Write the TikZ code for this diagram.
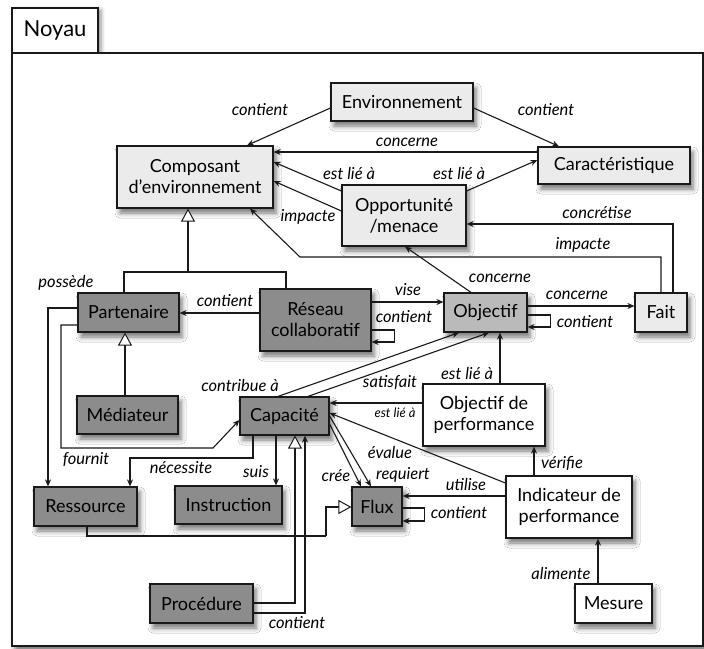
\documentclass[tikz,border=0pt]{standalone}
\usepackage{fontspec}
\setmainfont{Lato}
\usetikzlibrary{arrows.meta,shadows.blur,calc}
\definecolor{lg}{RGB}{235,235,235}
\definecolor{dg}{RGB}{140,140,140}
\definecolor{mg}{RGB}{186,186,186}
\begin{document}
\begin{tikzpicture}[x=1pt,y=-1pt,
  shd/.style={blur shadow={shadow xshift=3pt,shadow yshift=-5pt,shadow blur radius=5pt,shadow opacity=55}},
  box/.style={draw=black!90,line width=1.2pt,shd,inner sep=0pt,align=center,font=\fontsize{18}{21}\selectfont},
  light/.style={box,fill=lg},
  dark/.style={box,fill=dg},
  mid/.style={box,fill=mg},
  white/.style={box,fill=white},
  lab/.style={font=\fontsize{16.5}{19}\selectfont\itshape,inner sep=0pt},
  slab/.style={font=\fontsize{13}{15}\selectfont\itshape,inner sep=0pt},
  con/.style={draw=black!90,line width=1.1pt},
  arr/.style={con,-{Stealth[length=7pt,width=6pt]}},
  gen/.style={con,-{Triangle[fill=white,length=13pt,width=14pt,line width=1pt]}}
]
\useasboundingbox (0,0) rectangle (704,648);
% frame
\node[draw=black!90,line width=1.2pt,fill=white,blur shadow={shadow xshift=3pt,shadow yshift=-2pt,shadow blur radius=4pt,shadow opacity=45},minimum width=86,minimum height=45,inner sep=0pt,font=\fontsize{22}{26}\selectfont] (tab) at (55,30.5) {Noyau};
\node[draw=black!90,line width=1.2pt,fill=white,shd,minimum width=691,minimum height=593,inner sep=0pt] (frame) at (357.5,349.5) {};

% nodes
\node[light,minimum width=142,minimum height=38] (env) at (402,102) {Environnement};
\node[light,minimum width=156,minimum height=62] (comp) at (195,177) {Composant\\d’environnement};
\node[light,minimum width=152,minimum height=37] (car) at (614,165.5) {Caractéristique};
\node[light,minimum width=124,minimum height=61] (opp) at (404,215.5) {Opportunité\\/menace};
\node[dark,minimum width=101,minimum height=39] (part) at (128.5,312.5) {Partenaire};
\node[dark,minimum width=111,minimum height=62] (res) at (315.5,320) {Réseau\\collaboratif};
\node[mid,minimum width=83,minimum height=39] (obj) at (485.5,312.5) {Objectif};
\node[light,minimum width=52,minimum height=39] (fait) at (661,312.5) {Fait};
\node[dark,minimum width=101,minimum height=38] (med) at (127.5,415) {Médiateur};
\node[dark,minimum width=89,minimum height=38] (cap) at (284.5,416) {Capacité};
\node[white,minimum width=122,minimum height=62] (objp) at (484,415) {Objectif de\\performance};
\node[dark,minimum width=103,minimum height=39] (ress) at (85.5,506.5) {Ressource};
\node[dark,minimum width=107,minimum height=38] (instr) at (228.5,505) {Instruction};
\node[dark,minimum width=50,minimum height=39] (flux) at (377,506.5) {Flux};
\node[white,minimum width=126,minimum height=62] (ind) at (569,507) {Indicateur de\\performance};
\node[dark,minimum width=103,minimum height=39] (proc) at (201.5,603.5) {Procédure};
\node[white,minimum width=77,minimum height=39] (mes) at (613.5,603.5) {Mesure};

% connectors
\draw[arr] (env.west |- 0,108) -- (comp.north -| 247,0);
\draw[arr] (env.east |- 0,108) -- (car.north -| 559,0);
\draw[arr] (car.west |- 0,152) -- (comp.east |- 0,152);
\draw[arr] (opp.west |- 0,191) -- (comp.east |- 0,162);
\draw[arr] (opp.west |- 0,211) -- (comp.east |- 0,181);
\draw[arr] (opp.east |- 0,191) -- (car.west |- 0,160);
\draw[arr] (fait.north -| 673,0) |- (opp.east |- 0,224);
\coordinate (b1) at (300,257);
\draw[arr] (fait.north -| 661,0) |- (b1) -- (comp.south -| 250,0);
\draw[arr] (obj.north -| 471,0) -- (opp.south -| 405,0);
\draw[arr] (obj.east |- 0,306) -- (fait.west |- 0,306);
\draw[arr] (obj.east |- 0,315) -- ++(23,0) -- ++(0,12) -- (obj.east |- 0,327);
\draw[arr] (res.east |- 0,302) -- (obj.west |- 0,302);
\draw[arr] (res.east |- 0,330) -- ++(23,0) -- ++(0,12) -- (res.east |- 0,342);
\draw[arr] (res.west |- 0,313) -- (part.east |- 0,313);
\coordinate (g1) at (188,272);
\draw[con] (part.north -| 124,0) |- (g1) -| (res.north -| 286,0);
\draw[gen] (g1) -- (comp.south -| g1);
\draw[gen] (med.north -| 125,0) -- (part.south -| 125,0);
\draw[arr] (part.west |- 0,308) -| (ress.north -| 48,0);
\coordinate (b2) at (61,448);
\coordinate (b3) at (213,448);
\draw[arr] (part.west |- 0,325) -| (b2) -- (b3) -- (cap.west |- 0,420);
\coordinate (b4) at (253,458);
\draw[arr] (cap.south -| b4) -- (b4) -| (ress.north -| 130,0);
\draw[arr] (cap.south -| 276,0) -- (instr.north -| 276,0);
\coordinate (g2) at (326,536);
\draw[con] (ress.south -| 87,0) |- (g2);
\draw[con] (instr.south -| 234,0) -- (instr.south -| 234,0 |- g2);
\draw[gen] (g2) |- (flux.west |- 0,507);
\draw[gen] (proc.east |- 0,603) -| (cap.south -| 295,0);
\draw[arr] (proc.east |- 0,613) -| (cap.south -| 305,0);
\draw[arr] (cap.north -| 278,0) -- (obj.south -| 459,0);
\draw[arr] (cap.north -| 308,0) -- (obj.south -| 489,0);
\draw[arr] (objp.north -| 500,0) -- (obj.south -| 500,0);
\draw[arr] (objp.west |- 0,403) -- (cap.east |- 0,403);
\draw[arr] (ind.west |- 0,483) -- (cap.east |- 0,413);
\draw[arr] (cap.east |- 0,424) -- (flux.north -| 361,0);
\draw[arr] (cap.east |- 0,416) -- (flux.north -| 371,0);
\draw[arr] (ind.west |- 0,496) -- (flux.east |- 0,496);
\draw[arr] (flux.east |- 0,508) -- ++(22,0) -- ++(0,13) -- (flux.east |- 0,521);
\draw[arr] (ind.north -| 534,0) -- (objp.south -| 534,0);
\draw[arr] (mes.north -| 598,0) -- (ind.south -| 598,0);

% labels
\node[lab] (l1) at (260,110) {contient};
\node[lab] (l2) at (546,110) {contient};
\node[lab] (l3) at (407,142) {concerne};
\node[lab] (l4) at (349,173) {est lié à};
\node[lab] (l5) at (308,217) {impacte};
\node[lab] (l6) at (459,173) {est lié à};
\node[lab] (l7) at (597,213) {concrétise};
\node[lab] (l8) at (583,245) {impacte};
\node[lab] (l9) at (500,278) {concerne};
\node[lab] (l10) at (577,295) {concerne};
\node[lab] (l11) at (585,322) {contient};
\node[lab] (l12) at (408,290) {vise};
\node[lab] (l13) at (404,317) {contient};
\node[lab] (l14) at (225,301) {contient};
\node[lab] (l15) at (66,283) {possède};
\node[lab] (l16) at (86,460) {fournit};
\node[lab] (l17) at (181,468) {nécessite};
\node[lab] (l18) at (256,472) {suis};
\node[lab] (l19) at (297,623) {contient};
\node[lab] (l20) at (240,385) {contribue à};
\node[lab] (l21) at (390,383) {satisfait};
\node[lab] (l22) at (467,373) {est lié à};
\node[slab] (l23) at (395,413) {est lié à};
\node[lab] (l24) at (390,452) {évalue};
\node[lab] (l25) at (336,476) {crée};
\node[lab] (l26) at (403,475) {requiert};
\node[lab] (l27) at (466,484) {utilise};
\node[lab] (l28) at (459,513) {contient};
\node[lab] (l29) at (562,463) {vérifie};
\node[lab] (l30) at (561,573) {alimente};
\end{tikzpicture}
\end{document}
